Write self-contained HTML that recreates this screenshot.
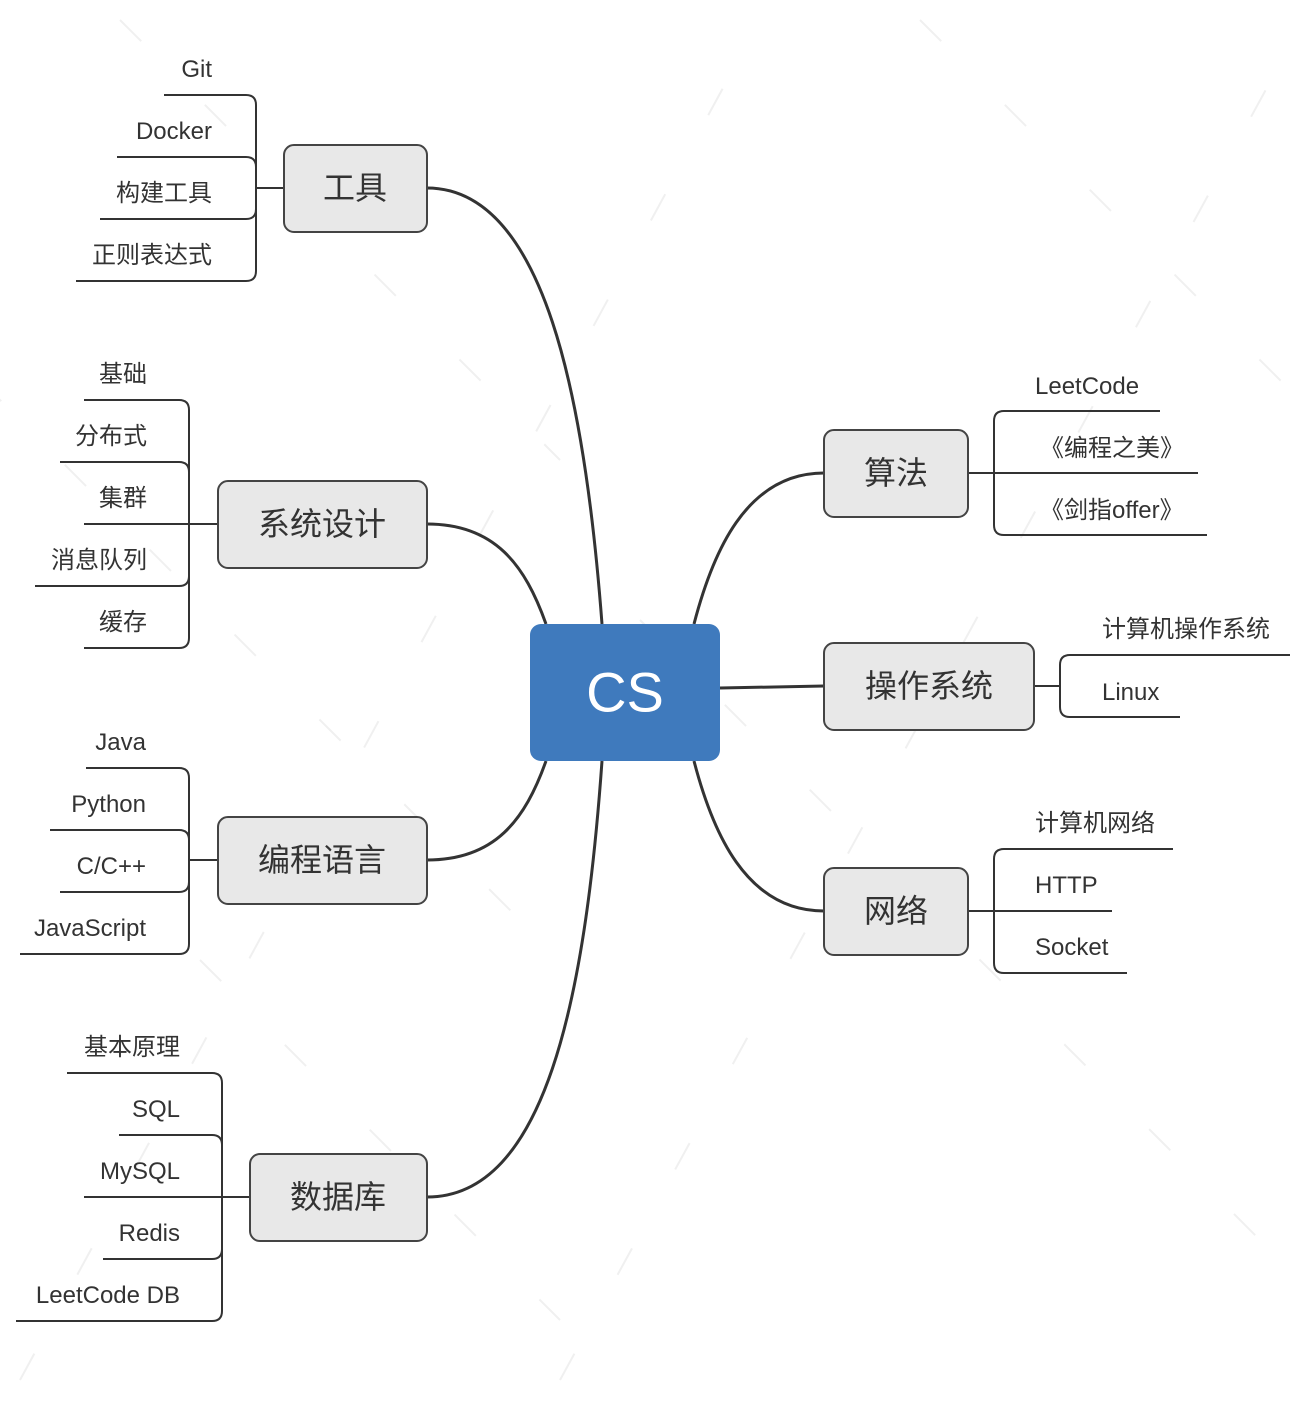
<!DOCTYPE html>
<html><head><meta charset="utf-8"><style>
html,body{margin:0;padding:0;background:#fff}
svg{display:block}
text{font-family:"Liberation Sans","Noto Sans CJK SC",sans-serif;fill:#333}
.c{font-size:24px}
.m{font-size:32px;text-anchor:middle;dominant-baseline:central}
.ln{fill:none;stroke:#333;stroke-width:2}
.br{fill:none;stroke:#333;stroke-width:3}
.nd{fill:#e8e8e8;stroke:#444;stroke-width:2}
.wm{stroke:#f0f0f0;stroke-width:2;stroke-dasharray:30 90;fill:none}
</style></head><body>
<svg width="1304" height="1402" viewBox="0 0 1304 1402" xmlns="http://www.w3.org/2000/svg">
<path class="wm" d="M120,20 L560,460 M-20,380 L540,940 M200,960 L560,1320 M920,20 L1304,404 M640,620 L1304,1284 M20,1380 L760,20 M560,1380 L1304,20"/>

<path class="br" d="M602,624 C585,400 545,188 427,188"/>
<path class="br" d="M546,624 C525,565 495,524 427,524"/>
<path class="br" d="M546,761 C525,820 495,860 427,860"/>
<path class="br" d="M602,761 C585,1000 545,1197 427,1197"/>
<path class="br" d="M694,624 C712,555 745,473 824,473"/>
<path class="br" d="M720,688 L824,686"/>
<path class="br" d="M694,761 C712,830 745,911 824,911"/>

<path class="ln" d="M164,95 L246,95 Q256,95 256,105 L256,188 M117,157 L246,157 Q256,157 256,167 L256,188 M100,219 L246,219 Q256,219 256,209 L256,188 M76,281 L246,281 Q256,281 256,271 L256,188 M256,188 L284,188"/>
<g class="c" text-anchor="end">
<text x="212" y="77">Git</text><text x="212" y="139">Docker</text><text x="212" y="201">构建工具</text><text x="212" y="263">正则表达式</text>
</g>
<path class="ln" d="M84,400 L179,400 Q189,400 189,410 L189,524 M60,462 L179,462 Q189,462 189,472 L189,524 M84,524 L218,524 M35,586 L179,586 Q189,586 189,576 L189,524 M84,648 L179,648 Q189,648 189,638 L189,524"/>
<g class="c" text-anchor="end">
<text x="147" y="382">基础</text><text x="147" y="444">分布式</text><text x="147" y="506">集群</text><text x="147" y="568">消息队列</text><text x="147" y="630">缓存</text>
</g>
<path class="ln" d="M86,768 L179,768 Q189,768 189,778 L189,860 M50,830 L179,830 Q189,830 189,840 L189,860 M60,892 L179,892 Q189,892 189,882 L189,860 M20,954 L179,954 Q189,954 189,944 L189,860 M189,860 L218,860"/>
<g class="c" text-anchor="end">
<text x="146" y="750">Java</text><text x="146" y="812">Python</text><text x="146" y="874">C/C++</text><text x="146" y="936">JavaScript</text>
</g>
<path class="ln" d="M67,1073 L212,1073 Q222,1073 222,1083 L222,1197 M119,1135 L212,1135 Q222,1135 222,1145 L222,1197 M84,1197 L250,1197 M103,1259 L212,1259 Q222,1259 222,1249 L222,1197 M16,1321 L212,1321 Q222,1321 222,1311 L222,1197"/>
<g class="c" text-anchor="end">
<text x="180" y="1055">基本原理</text><text x="180" y="1117">SQL</text><text x="180" y="1179">MySQL</text><text x="180" y="1241">Redis</text><text x="180" y="1303">LeetCode DB</text>
</g>
<path class="ln" d="M968,473 L1198,473 M1160,411 L1004,411 Q994,411 994,421 L994,525 Q994,535 1004,535 L1207,535"/>
<g class="c">
<text x="1035" y="394">LeetCode</text><text x="1040" y="456">《编程之美》</text><text x="1040" y="518">《剑指offer》</text>
</g>
<path class="ln" d="M1034,686 L1060,686 M1290,655 L1070,655 Q1060,655 1060,665 L1060,707 Q1060,717 1070,717 L1180,717"/>
<g class="c">
<text x="1102" y="637">计算机操作系统</text><text x="1102" y="700">Linux</text>
</g>
<path class="ln" d="M968,911 L1112,911 M1173,849 L1004,849 Q994,849 994,859 L994,963 Q994,973 1004,973 L1127,973"/>
<g class="c">
<text x="1035" y="831">计算机网络</text><text x="1035" y="893">HTTP</text><text x="1035" y="955">Socket</text>
</g>

<rect class="nd" x="284" y="145" width="143" height="87" rx="10"/>
<text class="m" x="355" y="188">工具</text>
<rect class="nd" x="218" y="481" width="209" height="87" rx="10"/>
<text class="m" x="322" y="524">系统设计</text>
<rect class="nd" x="218" y="817" width="209" height="87" rx="10"/>
<text class="m" x="322" y="860">编程语言</text>
<rect class="nd" x="250" y="1154" width="177" height="87" rx="10"/>
<text class="m" x="338" y="1197">数据库</text>
<rect class="nd" x="824" y="430" width="144" height="87" rx="10"/>
<text class="m" x="896" y="473">算法</text>
<rect class="nd" x="824" y="643" width="210" height="87" rx="10"/>
<text class="m" x="929" y="686">操作系统</text>
<rect class="nd" x="824" y="868" width="144" height="87" rx="10"/>
<text class="m" x="896" y="911">网络</text>

<rect x="530" y="624" width="190" height="137" rx="11" fill="#3f7abd"/>
<text x="625" y="692" style="font-size:56px;fill:#fff" text-anchor="middle" dominant-baseline="central">CS</text>
</svg>
</body></html>
